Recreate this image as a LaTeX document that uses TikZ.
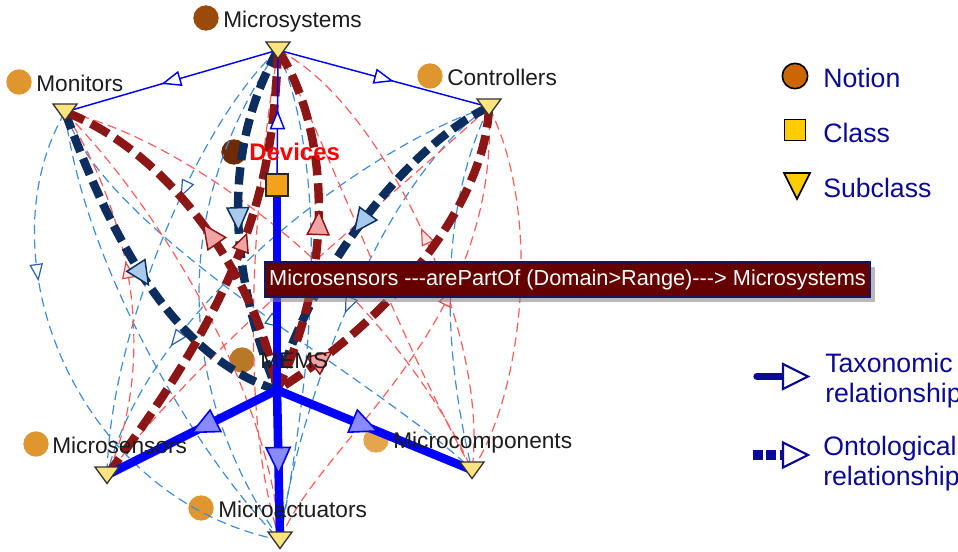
\documentclass[tikz,border=0pt]{standalone}
\usepackage{fontspec}
\setmainfont{Liberation Sans}
\usetikzlibrary{decorations.markings,shadows}

\definecolor{taxblue}{HTML}{0000FF}
\definecolor{bluefill}{HTML}{8A8AFF}
\definecolor{navyd}{HTML}{0D2D5E}
\definecolor{navyfill}{HTML}{A8CBEC}
\definecolor{redd}{HTML}{8C1515}
\definecolor{redfill}{HTML}{F2A3A3}
\definecolor{lblue}{HTML}{3F8CD8}
\definecolor{lbluedk}{HTML}{2A62A8}
\definecolor{lred}{HTML}{FF5C5C}
\definecolor{lredfill}{HTML}{FFE2E2}
\definecolor{legtext}{HTML}{0A0A96}
\definecolor{notion}{HTML}{CC6600}
\definecolor{classy}{HTML}{FFCC00}
\definecolor{tri}{HTML}{FFE47E}
\definecolor{clsorange}{HTML}{F4A21E}
\definecolor{ochre}{HTML}{E0962E}
\definecolor{brownA}{HTML}{9A4B0C}
\definecolor{brownB}{HTML}{6E2A00}
\definecolor{brownC}{HTML}{B06A10}
\definecolor{tipbg}{HTML}{640000}
\definecolor{tipedge}{HTML}{16165E}
\definecolor{lblgray}{HTML}{1C1C1C}

% a hyphen that never joins into a dash ligature
\newcommand{\hy}{\mbox{-}}
% inverted triangle marking a subclass, centred on a named node
\newcommand{\subclassmark}[1]{%
  \draw[tristyle] ([shift={(-12,-8)}]#1.center) -- ([shift={(12,-8)}]#1.center)
    -- ([shift={(0,8.5)}]#1.center) -- cycle;}

\tikzset{
  hub/.style={circle, inner sep=0pt, minimum size=0.5pt},
  notiondot/.style={circle, inner sep=0pt, minimum size=19pt, fill=ochre},
  lbl/.style={anchor=base west, inner sep=0pt, text=lblgray, font=\fontsize{17pt}{20pt}\selectfont},
  tristyle/.style={draw=black!80, line width=1pt, fill=tri, line join=miter},
  clsbox/.style={rectangle, draw=black!85, line width=1.3pt, fill=clsorange, inner sep=0pt, minimum size=17pt},
  arrowmark/.style 2 args={postaction={decorate, decoration={markings,
      mark=at position #1 with {\draw[solid, line width=0.9pt, line join=miter, #2]
        (-10,-8) -- (10,0) -- (-10,8) -- cycle;}}}},
  bluehd/.style={draw=taxblue, fill=bluefill, line width=1.2pt, xscale=1.3, yscale=1.5},
  tbluehd/.style={draw=taxblue, fill=white, line width=1.1pt, scale=0.85},
  navyhd/.style={draw=navyd, fill=navyfill, line width=1.1pt, xscale=1.15, yscale=1.35},
  redhd/.style={draw=redd, fill=redfill, line width=1.1pt, xscale=1.15, yscale=1.35},
  lbhd/.style={draw=lbluedk, fill=white, scale=0.75},
  lrhd/.style={draw=lred!85!black, fill=lredfill, scale=0.75},
  flipped/.style={xscale=-1},
  taxthin/.style={draw=taxblue, line width=1.1pt},
  taxthick/.style={draw=taxblue, line width=6.4pt, line cap=round},
  ontnavy/.style={draw=navyd, line width=6.3pt, dash pattern=on 13pt off 5.5pt},
  ontred/.style={draw=redd, line width=6.3pt, dash pattern=on 15pt off 6pt},
  thinb/.style={draw=lblue, line width=0.9pt, dash pattern=on 7pt off 4pt},
  thinr/.style={draw=lred, line width=0.9pt, dash pattern=on 7pt off 4pt},
  legtxt/.style={anchor=base west, inner sep=0pt, text=legtext, font=\fontsize{20pt}{24pt}\selectfont},
}

\begin{document}
\begin{tikzpicture}[x=0.75pt, y=-0.75pt]
\useasboundingbox (0,0) rectangle (958,551);
\fill[white] (0,0) rectangle (958,551);

% notion markers beside the labels
\node[notiondot, fill=brownA] (dMsys) at (206,18) {};
\node[notiondot] (dMon) at (19,82) {};
\node[notiondot] (dCtrl) at (430,76) {};
\node[notiondot, fill=brownB] (dDev) at (234,152) {};
\node[notiondot, fill=brownC, fill opacity=.9] (dMems) at (242,360) {};
\node[notiondot] (dSens) at (36,444) {};
\node[notiondot, fill opacity=.85] (dComp) at (376,440) {};
\node[notiondot] (dAct) at (201,508) {};

% graph anchors
\node[hub] (msys) at (278,50) {};
\node[hub] (mon) at (65,112) {};
\node[hub] (ctrl) at (489,107) {};
\node[hub] (dev) at (277,185) {};
\node[hub] (mems) at (277,390) {};
\node[hub] (msens) at (107,475) {};
\node[hub] (mcomp) at (472,470) {};
\node[hub] (mact) at (280,540) {};

% light ontological relations
\draw[thinb, arrowmark={0.36}{lbhd}] (msys) .. controls (200,120) and (110,330) .. (msens);
\draw[thinb, arrowmark={0.3}{lbhd}] (mon) .. controls (-20,260) and (80,500) .. (mact);
\draw[thinb, arrowmark={0.72}{lbhd}] (ctrl) .. controls (380,140) and (150,300) .. (msens);
\draw[thinb, arrowmark={0.55}{lbhd}] (mon) .. controls (110,240) and (380,380) .. (mcomp);
\draw[thinb, arrowmark={0.5}{lbhd}] (ctrl) .. controls (390,170) and (300,390) .. (mact);
\draw[thinb] (ctrl) .. controls (430,230) and (450,380) .. (mcomp);
\draw[thinb] (mon) .. controls (85,270) and (200,460) .. (mact);
\draw[thinb] (msys) .. controls (340,200) and (300,430) .. (mact);
\draw[thinb] (msys) .. controls (175,200) and (170,380) .. (mact);

\draw[thinr, arrowmark={0.5}{lrhd,flipped}] (msys) .. controls (380,100) and (490,330) .. (mcomp);
\draw[thinr, arrowmark={0.45}{lrhd,flipped}] (mon) .. controls (145,240) and (150,380) .. (msens);
\draw[thinr] (ctrl) .. controls (545,220) and (520,400) .. (mcomp);
\draw[thinr, arrowmark={0.6}{lrhd}] (mact) .. controls (320,440) and (500,330) .. (ctrl);
\draw[thinr] (msys) .. controls (250,220) and (240,420) .. (mact);
\draw[thinr, arrowmark={0.3}{lrhd,flipped}] (ctrl) .. controls (390,200) and (220,330) .. (msens);
\draw[thinr] (mon) .. controls (170,220) and (270,400) .. (mact);
\draw[thinr] (mcomp) .. controls (390,320) and (330,150) .. (msys);
\draw[thinr, arrowmark={0.55}{lrhd,flipped}] (mon) .. controls (190,140) and (390,290) .. (mcomp);

% strong ontological relations
\draw[ontnavy, arrowmark={0.5}{navyhd}] (mon) .. controls (106,223) and (167,355) .. (mems);
\draw[ontnavy, arrowmark={0.5}{navyhd}] (msys) .. controls (222,150) and (228,270) .. (mems);
\draw[ontnavy, arrowmark={0.48}{navyhd}] (ctrl) .. controls (408,145) and (307,275) .. (mems);
\draw[ontred, arrowmark={0.53}{redhd,flipped}] (mon) .. controls (166,150) and (257,275) .. (mems);
\draw[ontred, arrowmark={0.51}{redhd,flipped}] (msys) .. controls (330,130) and (335,270) .. (mems);
\draw[ontred, arrowmark={0.85}{redhd,flipped}] (ctrl) .. controls (485,205) and (390,320) .. (mems);
\draw[ontred, arrowmark={0.58}{redhd,scale=0.75}] (msens) .. controls (257,276) and (273,170) .. (msys);

% taxonomic relations
\draw[taxthin, arrowmark={0.5}{tbluehd}] (msys) -- (mon);
\draw[taxthin, arrowmark={0.5}{tbluehd}] (msys) -- (ctrl);
\draw[taxthin, arrowmark={0.48}{tbluehd}] (dev) -- (msys);
\draw[taxthick] (mems) -- (dev);
\draw[taxthick, arrowmark={0.43}{bluehd}] (mems) -- (msens);
\draw[taxthick, arrowmark={0.45}{bluehd}] (mems) -- (mcomp);
\draw[taxthick, arrowmark={0.47}{bluehd}] (mems) -- (mact);

% class and subclass markers
\node[clsbox] (devbox) at (dev) {};
\subclassmark{msys}
\subclassmark{mon}
\subclassmark{ctrl}
\subclassmark{msens}
\subclassmark{mcomp}
\subclassmark{mact}

% labels
\node[lbl] (tMsys) at (223,27) {Microsystems};
\node[lbl] (tMon) at (36,91) {Monitors};
\node[lbl] (tCtrl) at (447,85) {Controllers};
\node[lbl, text=red, font=\fontsize{18pt}{21pt}\selectfont\bfseries] (tDev) at (249,160) {Devices};
\node[lbl] (tMems) at (260,368) {MEMS};
\node[lbl] (tSens) at (52,453) {Microsensors};
\node[lbl] (tComp) at (393,448) {Microcomponents};
\node[lbl] (tAct) at (218,517) {Microactuators};

% hover tooltip
\node[fill=tipbg, draw=tipedge, line width=1.2pt, minimum width=453.75pt, minimum height=26pt,
      inner sep=0pt, text=white, font=\fontsize{16.3pt}{19pt}\selectfont,
      drop shadow={shadow xshift=3.5pt, shadow yshift=-3.5pt, opacity=0.55}]
  (tooltip) at (567.5,279.5) {Microsensors \hy\hy\hy arePartOf (Domain>Range)\hy\hy\hy> Microsystems};

% legend
\node[circle, draw=black, line width=1.2pt, fill=notion, minimum size=19pt, inner sep=0pt] (lgNotion) at (795,76) {};
\node[rectangle, draw=black, line width=1.2pt, fill=classy, minimum size=16pt, inner sep=0pt] (lgClass) at (795,130) {};
\coordinate (lgSub) at (797,185);
\draw[draw=black, line width=1.2pt, fill=classy, line join=miter]
  ([shift={(-13,-12)}]lgSub) -- ([shift={(13,-12)}]lgSub) -- ([shift={(0,14)}]lgSub) -- cycle;
\node[legtxt] (lgN) at (823,87) {Notion};
\node[legtxt] (lgC) at (823,142) {Class};
\node[legtxt] (lgS) at (823,197) {Subclass};

\coordinate (lgTa) at (757,376.5);
\coordinate (lgTb) at (783,376.5);
\draw[draw=legtext, line width=5.5pt, line cap=round] (lgTa) -- (lgTb);
\draw[draw=legtext, line width=1.6pt, fill=white, line join=miter]
  ([shift={(0,-12.5)}]lgTb) -- ([shift={(25,0)}]lgTb) -- ([shift={(0,12.5)}]lgTb) -- cycle;
\node[legtxt] (lgT1) at (825,372) {Taxonomic};
\node[legtxt] (lgT2) at (825,402) {relationship};

\coordinate (lgOa) at (753,455);
\coordinate (lgOb) at (783,455);
\draw[draw=legtext, line width=7.5pt, dash pattern=on 7.5pt off 2.5pt] (lgOa) -- (lgOb);
\draw[draw=legtext, line width=1.6pt, fill=white, line join=miter]
  ([shift={(0,-12.5)}]lgOb) -- ([shift={(25,0)}]lgOb) -- ([shift={(0,12.5)}]lgOb) -- cycle;
\node[legtxt] (lgO1) at (823,455) {Ontological};
\node[legtxt] (lgO2) at (823,485) {relationship};
\end{tikzpicture}
\end{document}
